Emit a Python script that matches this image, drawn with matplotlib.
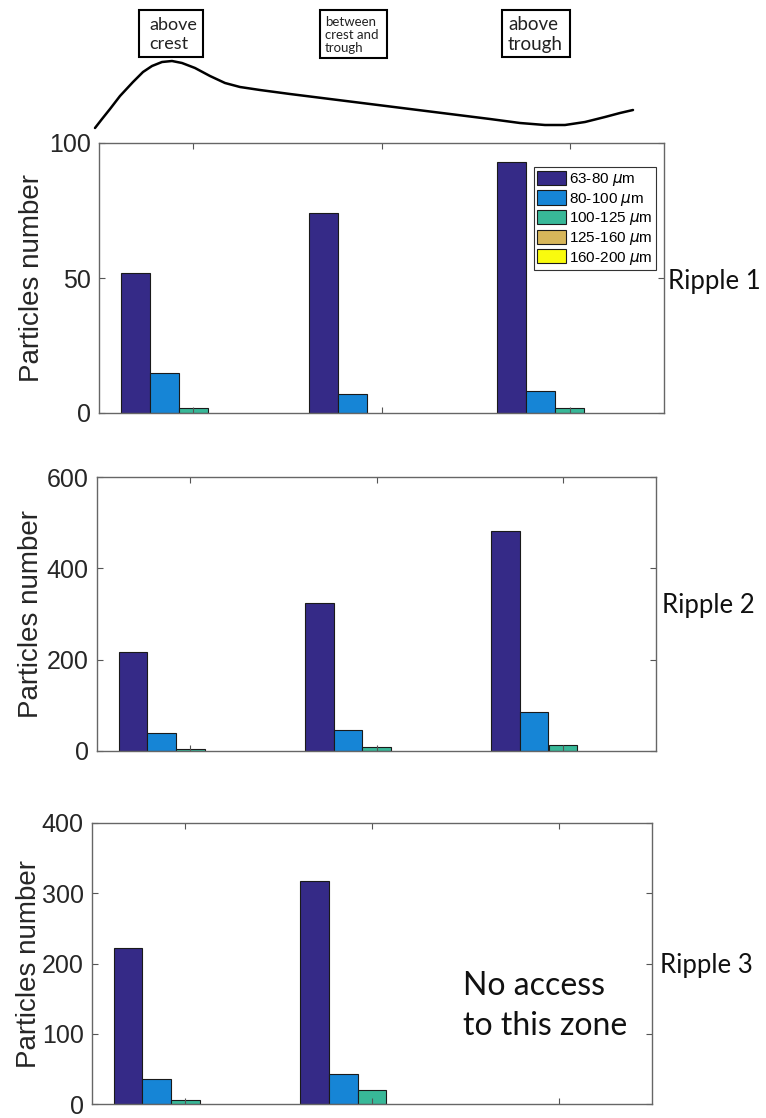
import numpy as np
import matplotlib
matplotlib.use("Agg")
import matplotlib.pyplot as plt
from matplotlib.patches import Patch, Rectangle

plt.rcParams['font.family'] = ['Liberation Sans', 'DejaVu Sans']
plt.rcParams['mathtext.fontset'] = 'dejavusans'

# data
positions = ['above crest', 'between\ncrest and\ntrough', 'above\ntrough']
size_classes = ['63-80 $\\mu$m', '80-100 $\\mu$m', '100-125 $\\mu$m',
                '125-160 $\\mu$m', '160-200 $\\mu$m']
colors = ['#352A87', '#1685D6', '#38B898', '#D7B65A', '#F9FB0E']

ripple1 = [[52, 15, 2, 0, 0],
           [74, 7, 0, 0, 0],
           [93, 8, 2, 0, 0]]
ripple2 = [[217, 40, 5, 0, 0],
           [325, 45, 9, 0, 0],
           [482, 86, 13, 0, 0]]
ripple3 = [[222, 36, 6, 0, 0],
           [317, 43, 20, 0, 0],
           [0, 0, 0, 0, 0]]
ripples = [ripple1, ripple2, ripple3]
ripple_names = ['Ripple 1', 'Ripple 2', 'Ripple 3']
ylims = [100, 600, 400]
yticks = [[0, 50, 100], [0, 200, 400, 600], [0, 100, 200, 300, 400]]

# sketch of the ripple profile (figure pixels)
profile_x = [95, 102, 110, 120, 133, 143, 152, 162, 172, 182, 195, 210, 225, 240,
             260, 290, 330, 370, 410, 450, 490, 520, 545, 565, 585, 605, 620, 633]
profile_y = [128, 119, 109, 96, 82, 72, 66, 62, 61, 63, 68, 76, 83, 87,
             90, 94, 99, 104, 109, 114, 119, 123, 125, 125, 122, 117, 113, 110]

W, H = 766, 1118
fig = plt.figure(figsize=(W / 100, H / 100), dpi=100)

# overlay axes in pixel coordinates for the sketch
ov = fig.add_axes([0, 0, 1, 1])
ov.set_xlim(0, W)
ov.set_ylim(H, 0)
ov.axis('off')
ov.plot(profile_x, profile_y, color='black', lw=1.8, solid_capstyle='round',
        solid_joinstyle='round')

boxes = [(139, 10, 64, 47, 'above\ncrest', 13, 1.25, 10),
         (320, 10, 67, 48, 'between\ncrest and\ntrough', 9.5, 1.15, 5),
         (502, 10, 68, 47, 'above\ntrough', 13.5, 1.2, 6)]
for bx, by, bw, bh, txt, fs, ls, pad in boxes:
    ov.add_patch(Rectangle((bx, by), bw, bh, fill=False, ec='black', lw=1.5))
    ov.text(bx + pad, by + bh / 2 + 1, txt, ha='left', va='center', fontsize=fs,
            family='Lato', linespacing=ls, color='#222222')

panel_px = [(99, 664, 143, 413), (97, 656, 477, 751), (92, 652, 823, 1104)]
label_x = [-0.119, -0.118, -0.1125]
ripple_pos = [(668, 282), (662, 606), (660, 966)]

n = len(size_classes)
width = min(0.8, n / (n + 1.5)) / n
groups = np.arange(1, 4)

for k, (l, r, t, b) in enumerate(panel_px):
    ax = fig.add_axes([l / W, (H - b) / H, (r - l) / W, (b - t) / H])
    data = np.array(ripples[k])
    for i in range(n):
        bars = ax.bar(groups + (i - (n - 1) / 2) * width, data[:, i], width,
                      color=colors[i], edgecolor='#1a1a1a', linewidth=0.8)
        for p in bars.patches:
            if p.get_height() == 0:
                p.set_visible(False)
    ax.set_xlim(0.5, 3.5)
    ax.set_ylim(0, ylims[k])
    ax.set_xticks(groups)
    ax.set_xticklabels([])
    ax.set_yticks(yticks[k])
    ax.tick_params(direction='in', top=True, right=True, length=4, width=0.8,
                   colors='#555555', labelcolor='#262626', labelsize=18, pad=6)
    for s in ax.spines.values():
        s.set_color('#666666')
        s.set_linewidth(1.0)
    ax.set_ylabel('Particles number', fontsize=20, color='#262626', va='center')
    ax.yaxis.set_label_coords(label_x[k], 0.5)
    rx, ry = ripple_pos[k]
    ov.text(rx, ry, ripple_names[k], ha='left', va='center', fontsize=18.5,
            family='Lato', color='#111111')
    if k == 0:
        handles = [Patch(facecolor=c, edgecolor='#1a1a1a', linewidth=0.8) for c in colors]
        leg = ax.legend(handles, size_classes, loc='upper right',
                        bbox_to_anchor=(0.986, 0.911), borderaxespad=0,
                        fontsize=11, fancybox=False, framealpha=1,
                        edgecolor='#333333', handlelength=1.9, handleheight=1.05,
                        handletextpad=0.15, labelspacing=0.15, borderpad=0.25)
        leg.get_frame().set_linewidth(0.8)

ov.text(463, 1006, 'No access\nto this zone', ha='left', va='center',
        fontsize=23, family='Lato', linespacing=1.45, color='#111111')
ov.set_zorder(5)
ov.patch.set_visible(False)

fig.savefig('out.png', dpi=100)
